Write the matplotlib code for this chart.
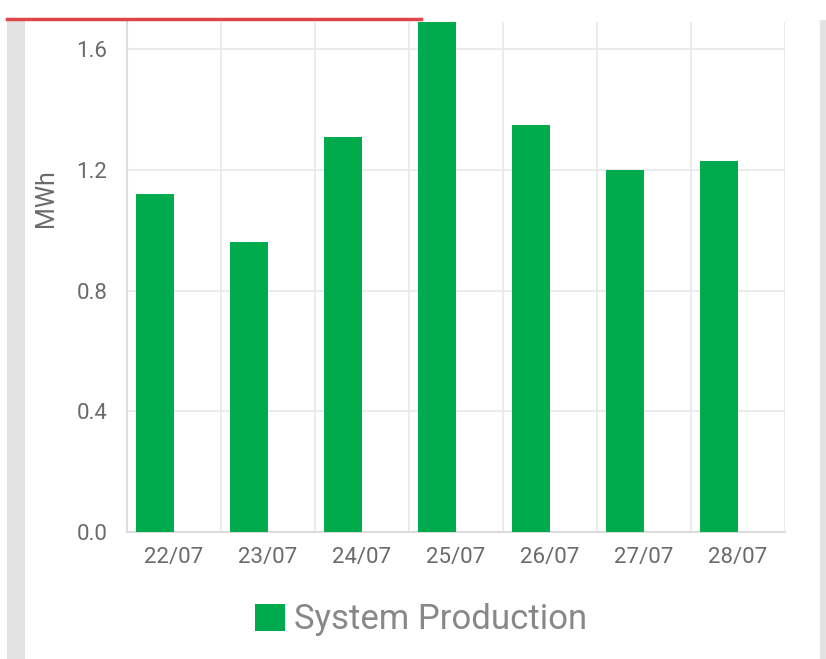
import numpy as np
import matplotlib.pyplot as plt
from matplotlib.patches import Rectangle

days = ["22/07", "23/07", "24/07", "25/07", "26/07", "27/07", "28/07"]
production = [1.12, 0.96, 1.31, 1.69, 1.35, 1.20, 1.23]
y_ticks = [0.0, 0.4, 0.8, 1.2, 1.6]

plt.rcParams['font.family'] = ['Roboto', 'DejaVu Sans']

green = '#00AB4E'
text_grey = '#6a6a6a'
grid_grey = '#e8e8e8'

fig = plt.figure(figsize=(8.26, 6.59), dpi=100)
ax = fig.add_axes([127 / 826, 1 - 532 / 659, (785 - 127) / 826, (532 - 22) / 659])

x = np.arange(len(days))
ax.bar(x - 0.2, production, width=0.4, color=green, zorder=3)

ax.set_xlim(-0.5, len(days) - 0.5)
ax.set_ylim(0, max(production))
ax.set_xticks(x)
ax.set_xticklabels(days)
ax.set_yticks(y_ticks)
ax.set_yticklabels([f"{v:.1f}" for v in y_ticks])
ax.set_xticks(np.arange(-0.5, len(days)), minor=True)

ax.grid(True, axis='y', color=grid_grey, linewidth=1.2, zorder=0)
ax.grid(True, axis='x', which='minor', color=grid_grey, linewidth=1.2, zorder=0)
ax.grid(False, axis='x', which='major')
for side in ['top', 'right']:
    ax.spines[side].set_visible(False)
for side in ['left', 'bottom']:
    ax.spines[side].set_color('#dcdcdc')
    ax.spines[side].set_linewidth(1.5)
ax.tick_params(axis='both', which='both', length=0, labelsize=16, labelcolor=text_grey)
ax.tick_params(axis='x', pad=11)
ax.tick_params(axis='y', pad=14)
ax.set_ylabel("MWh", fontsize=18, color=text_grey)
ax.yaxis.set_label_coords((58 - 127) / 658, (532 - 198) / 510)

# legend
handle = Rectangle((0, 0), 1, 1, facecolor=green, edgecolor='none')
fig.legend([handle], ["System Production"], loc='center',
           bbox_to_anchor=(0.5 + 8 / 826, 1 - 620 / 659), frameon=False,
           fontsize=25, labelcolor='#888888', handlelength=0.85,
           handleheight=0.85, handletextpad=0.25)

# screenshot frame bits
fig.add_artist(Rectangle((7 / 826, 0), 18 / 826, 1 - 20 / 659,
                         transform=fig.transFigure, facecolor='#e3e3e3',
                         edgecolor='none'))
fig.add_artist(Rectangle((820 / 826, 0), 6 / 826, 1 - 20 / 659,
                         transform=fig.transFigure, facecolor='#e3e3e3',
                         edgecolor='none'))
fig.add_artist(plt.Line2D([7 / 826, 421 / 826], [1 - 18.5 / 659, 1 - 18.5 / 659],
                          transform=fig.transFigure, color='#e0454b', linewidth=2.5))

fig.savefig("out.png", dpi=100)
